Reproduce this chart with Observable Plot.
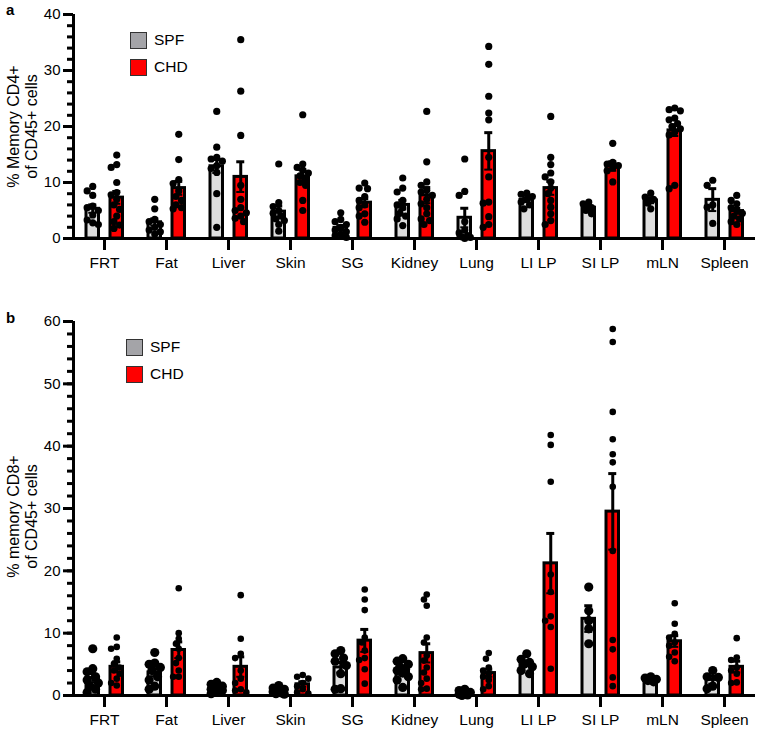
<!DOCTYPE html>
<html>
<head>
<meta charset="utf-8">
<script src="https://cdn.jsdelivr.net/npm/d3@7"></script>
<script src="https://cdn.jsdelivr.net/npm/@observablehq/plot@0.6"></script>
<style>
  html, body { margin: 0; padding: 0; background: #fff; }
  #fig { position: relative; width: 758px; height: 731px; font-family: "Liberation Sans", Arial, sans-serif; color: #000; }
  .panel { position: absolute; left: 0; }
  .plabel { position: absolute; font-weight: bold; font-size: 15px; }
  .leg { position: absolute; display: flex; align-items: center; font-size: 15.5px; }
  .sw { width: 15px; height: 15px; border: 1px solid #333; margin-right: 7px; box-sizing: content-box; }
</style>
</head>
<body>
<div id="fig">
  <div class="panel" id="pa" style="top:0"></div>
  <div class="panel" id="pb" style="top:290px"></div>
  <div class="plabel" style="left:6px;top:1px">a</div>
  <div class="plabel" style="left:6px;top:309px">b</div>
  <div class="leg" style="left:130px;top:31px"><div class="sw" style="background:#a4a4a8"></div>SPF</div>
  <div class="leg" style="left:130px;top:58px"><div class="sw" style="background:#ff0000"></div>CHD</div>
  <div class="leg" style="left:126px;top:338px"><div class="sw" style="background:#a4a4a8"></div>SPF</div>
  <div class="leg" style="left:126px;top:365px"><div class="sw" style="background:#ff0000"></div>CHD</div>
</div>
<script>
const categories = ["FRT", "Fat", "Liver", "Skin", "SG", "Kidney", "Lung", "LI LP", "SI LP", "mLN", "Spleen"];
const groups = ["SPF", "CHD"];

// Panel a: % Memory CD4+ of CD45+ cells
const cd4SpfMean = [5.3, 2.9, 12.9, 4.8, 1.9, 6.0, 3.7, 6.9, 5.5, 6.8, 6.9];
const cd4SpfSem  = [0.7, 0.6, 1.2, 1.0, 0.4, 0.8, 1.7, 0.4, 0.4, 0.5, 2.0];
const cd4ChdMean = [7.3, 9.0, 11.0, 11.1, 6.4, 7.7, 15.6, 9.0, 12.9, 19.3, 4.9];
const cd4ChdSem  = [1.1, 1.2, 2.7, 1.2, 0.7, 1.4, 3.3, 1.2, 0.8, 1.0, 0.5];
const cd4SpfPoints = [
  [9.3, 8.5, 7.7, 5.8, 5.5, 5.0, 4.2, 3.3, 2.8, 2.5],
  [7.0, 5.3, 3.4, 3.0, 2.5, 2.0, 1.5, 1.2, 0.8],
  [22.7, 16.3, 14.5, 14.2, 13.8, 13.0, 12.5, 11.8, 8.0, 2.0],
  [13.3, 6.4, 5.7, 5.0, 4.5, 4.0, 3.5, 3.2, 2.5, 1.3],
  [4.6, 3.4, 3.0, 2.5, 2.0, 1.5, 1.2, 0.8, 0.5, 0.2],
  [10.8, 9.0, 8.3, 6.8, 6.0, 5.5, 4.5, 4.0, 3.5, 2.3],
  [14.2, 8.4, 7.7, 3.0, 1.5, 1.0, 0.5, 0.3, 0.2, 0.0],
  [8.1, 7.9, 7.5, 7.0, 6.5, 6.0, 5.3],
  [6.5, 6.2, 5.5, 5.0, 4.4],
  [8.1, 7.4, 7.0, 6.3, 5.3],
  [10.4, 9.5, 6.0, 5.6, 2.7]
];
const cd4ChdPoints = [
  [14.9, 13.2, 12.7, 10.0, 8.2, 7.8, 7.0, 6.0, 5.2, 4.0, 3.0, 2.4, 1.8],
  [18.6, 14.1, 10.5, 9.8, 8.5, 7.5, 6.8, 6.0, 5.5, 5.3],
  [35.5, 26.3, 18.4, 9.5, 7.0, 5.5, 5.0, 4.6, 4.0, 3.6, 3.0],
  [22.1, 13.3, 12.7, 12.2, 11.7, 11.2, 10.7, 10.0, 9.5, 6.8, 5.0],
  [9.9, 9.0, 8.9, 7.5, 6.8, 6.0, 5.5, 4.4, 4.0, 2.9],
  [22.7, 13.7, 10.1, 9.5, 8.6, 8.3, 7.7, 7.0, 6.2, 5.5, 4.4, 3.5, 3.2, 2.5],
  [34.3, 31.1, 25.4, 22.4, 21.2, 14.5, 11.0, 6.5, 6.3, 3.9, 2.5, 2.0],
  [21.8, 14.5, 13.2, 11.7, 11.0, 10.1, 9.0, 8.0, 6.8, 5.6, 4.4, 3.2, 2.5],
  [17.0, 13.6, 13.3, 13.0, 12.6, 12.1, 10.1],
  [23.3, 23.0, 22.8, 21.5, 21.2, 20.5, 20.0, 19.6, 19.0, 18.5, 9.5, 8.9],
  [7.7, 6.8, 6.2, 5.5, 5.0, 4.5, 4.0, 3.5, 3.0, 2.5]
];

// Panel b: % memory CD8+ of CD45+ cells
const cd8SpfMean = [2.8, 3.7, 1.1, 0.8, 4.5, 3.8, 0.3, 5.1, 12.3, 2.6, 2.5];
const cd8SpfSem  = [0.7, 0.6, 0.2, 0.2, 0.8, 0.5, 0.1, 0.4, 2.1, 0.2, 0.6];
const cd8ChdMean = [4.6, 7.3, 4.6, 1.8, 8.8, 6.8, 3.6, 21.2, 29.5, 8.7, 4.6];
const cd8ChdSem  = [0.8, 1.3, 1.6, 0.4, 1.8, 1.5, 0.6, 4.8, 6.1, 0.9, 0.9];
const cd8SpfPoints = [
  [7.5, 4.3, 3.8, 3.0, 2.5, 2.0, 1.5, 1.0, 0.5],
  [6.9, 5.2, 5.0, 4.5, 4.0, 3.0, 2.5, 1.5, 1.0],
  [2.1, 1.8, 1.5, 1.2, 1.0, 0.8, 0.5, 0.3],
  [1.6, 1.2, 1.0, 0.8, 0.6, 0.4, 0.3, 0.2],
  [7.2, 6.7, 6.0, 5.5, 4.8, 3.5, 1.1, 1.0],
  [5.9, 5.5, 5.0, 4.6, 4.2, 4.0, 3.6, 3.0, 2.5, 1.3],
  [1.0, 0.8, 0.5, 0.3, 0.2, 0.1, 0.0],
  [6.7, 5.8, 5.3, 5.0, 4.6, 4.0, 3.5],
  [17.4, 13.6, 12.0, 10.7, 8.3],
  [3.0, 2.8, 2.6, 2.4, 2.2],
  [4.0, 3.0, 2.9, 1.5, 1.1]
];
const cd8ChdPoints = [
  [9.3, 7.8, 7.5, 5.9, 5.1, 4.5, 4.0, 3.5, 2.7, 2.0, 1.6],
  [17.2, 10.0, 9.1, 8.3, 7.5, 6.0, 5.2, 4.0, 3.0, 3.0],
  [16.1, 9.1, 6.7, 6.0, 4.0, 2.7, 2.0, 1.0, 0.8, 0.5],
  [3.3, 3.0, 2.7, 2.0, 1.5, 1.0, 0.5, 0.3],
  [17.0, 15.4, 13.7, 9.3, 8.5, 7.2, 6.0, 5.7, 4.2, 1.9],
  [16.2, 15.4, 14.4, 9.3, 8.5, 6.4, 5.6, 4.5, 3.7, 2.7, 2.0, 1.1, 1.0],
  [6.8, 5.9, 4.5, 4.0, 3.5, 3.0, 2.5, 1.5, 1.0],
  [41.8, 40.2, 34.3, 19.4, 16.6, 12.7, 12.0, 11.0, 4.3],
  [58.8, 56.7, 45.5, 41.1, 38.7, 37.4, 33.5, 23.2, 8.9, 7.4, 2.9, 1.5],
  [14.8, 11.5, 9.9, 9.3, 8.5, 8.0, 6.9, 6.2, 5.5],
  [9.2, 6.1, 5.7, 4.5, 4.0, 3.5, 2.1, 2.0]
];

const cd4YTicks = [0, 10, 20, 30, 40];
const cd8YTicks = [0, 10, 20, 30, 40, 50, 60];
const cd4Title = "% Memory CD4+\nof CD45+ cells";
const cd8Title = "% memory CD8+\nof CD45+ cells";

// ---------- drawing ----------
const W = 758, ML = 73, MR = 3;
const BW = (W - ML - MR) / categories.length;
const offs = {SPF: -11.75, CHD: 12.25}; // bar centre offsets from band centre (px)
const barHalf = 6.25;
const fills = {SPF: "#dedede", CHD: "#ff0000"};
const SW = 3;

function swarm(values, k, r, step) {
  const placed = [], out = new Array(values.length);
  const order = d3.range(values.length).sort((a, b) => values[b] - values[a]);
  const cands = [0, -1, 1, -2, 2];
  for (const i of order) {
    const y = values[i] * k;
    let best = 0, bestD = -1;
    for (const c of cands) {
      let dmin = Infinity;
      for (const p of placed) dmin = Math.min(dmin, Math.hypot((p.s - c) * step, p.y - y));
      if (dmin >= 1.7 * r) { best = c; break; }
      if (dmin > bestD) { bestD = dmin; best = c; }
    }
    placed.push({s: best, y});
    out[i] = best;
  }
  return out;
}

function panel({height, mt, mb, yTicks, ymax, title, spfMean, spfSem, chdMean, chdSem, spfPts, chdPts, rSpf, rChd, titleDy}) {
  const k = (height - mt - mb) / ymax;
  const stats = [];
  const pts = [];
  const src = {SPF: [spfMean, spfSem, spfPts, rSpf], CHD: [chdMean, chdSem, chdPts, rChd]};
  for (const g of groups) {
    const [m, s, p, r] = src[g];
    categories.forEach((c, i) => {
      stats.push({cat: c, group: g, mean: m[i], sem: s[i]});
      const slots = swarm(p[i], k, r, 2.8);
      p[i].forEach((v, j) => pts.push({cat: c, group: g, v, slot: slots[j]}));
    });
  }
  const marks = [];
  const half = BW / 2;
  for (const g of groups) {
    const st = stats.filter(d => d.group === g);
    const o = offs[g];
    marks.push(Plot.barY(st, {x: "cat", y: "mean", fill: fills[g], stroke: "#000", strokeWidth: SW,
      insetLeft: half + o - barHalf, insetRight: half - o - barHalf}));
    marks.push(Plot.ruleX(st, {x: "cat", y1: d => d.mean - d.sem, y2: d => d.mean + d.sem, dx: o, stroke: "#000", strokeWidth: SW}));
    marks.push(Plot.tickY(st, {x: "cat", y: d => d.mean + d.sem, stroke: "#000", strokeWidth: SW,
      insetLeft: half + o - 4, insetRight: half - o - 4}));
    marks.push(Plot.tickY(st, {x: "cat", y: d => d.mean - d.sem, stroke: "#000", strokeWidth: 2,
      insetLeft: half + o - 4, insetRight: half - o - 4}));
  }
  for (const g of groups) {
    for (const s of [-2, -1, 0, 1, 2]) {
      const sub = pts.filter(d => d.group === g && d.slot === s);
      if (!sub.length) continue;
      marks.push(Plot.dot(sub, {x: "cat", y: "v", r: g === "SPF" ? rSpf : rChd, fill: "#000", stroke: null, dx: offs[g] + s * 2.8}));
    }
  }
  const minor = d3.range(0, ymax + 0.001, 2);
  marks.push(Plot.axisY({ticks: minor, tickSize: 6, tickFormat: () => "", strokeWidth: SW, label: null}));
  marks.push(Plot.axisY({ticks: yTicks, tickSize: 10, tickPadding: 3, strokeWidth: SW, fontSize: 15, label: null}));
  marks.push(Plot.axisX({tickSize: 12, tickPadding: 6, strokeWidth: SW, fontSize: 15.5, label: null}));
  marks.push(Plot.ruleY([0], {stroke: "#000", strokeWidth: SW}));
  marks.push(Plot.ruleX([categories[0]], {x: d => d, y1: 0, y2: ymax, dx: -half, stroke: "#000", strokeWidth: SW}));
  marks.push(Plot.text([title], {text: d => d, frameAnchor: "left", rotate: -90, dx: -51, dy: titleDy, fontSize: 16, lineHeight: 1.1, textAnchor: "middle"}));
  return Plot.plot({
    width: W, height, marginLeft: ML, marginRight: MR, marginTop: mt, marginBottom: mb,
    style: {fontFamily: "'Liberation Sans', Arial, sans-serif", color: "#000", background: "transparent", overflow: "visible"},
    x: {type: "band", domain: categories, padding: 0},
    y: {domain: [0, ymax]},
    marks
  });
}

document.getElementById("pa").appendChild(panel({
  height: 290, mt: 14, mb: 52, yTicks: cd4YTicks, ymax: 40, title: cd4Title,
  spfMean: cd4SpfMean, spfSem: cd4SpfSem, chdMean: cd4ChdMean, chdSem: cd4ChdSem,
  spfPts: cd4SpfPoints, chdPts: cd4ChdPoints, rSpf: 3.6, rChd: 3.6, titleDy: 0
}));
document.getElementById("pb").appendChild(panel({
  height: 441, mt: 31, mb: 36, yTicks: cd8YTicks, ymax: 60, title: cd8Title,
  spfMean: cd8SpfMean, spfSem: cd8SpfSem, chdMean: cd8ChdMean, chdSem: cd8ChdSem,
  spfPts: cd8SpfPoints, chdPts: cd8ChdPoints, rSpf: 4.6, rChd: 3.3, titleDy: 8
}));
</script>
</body>
</html>
